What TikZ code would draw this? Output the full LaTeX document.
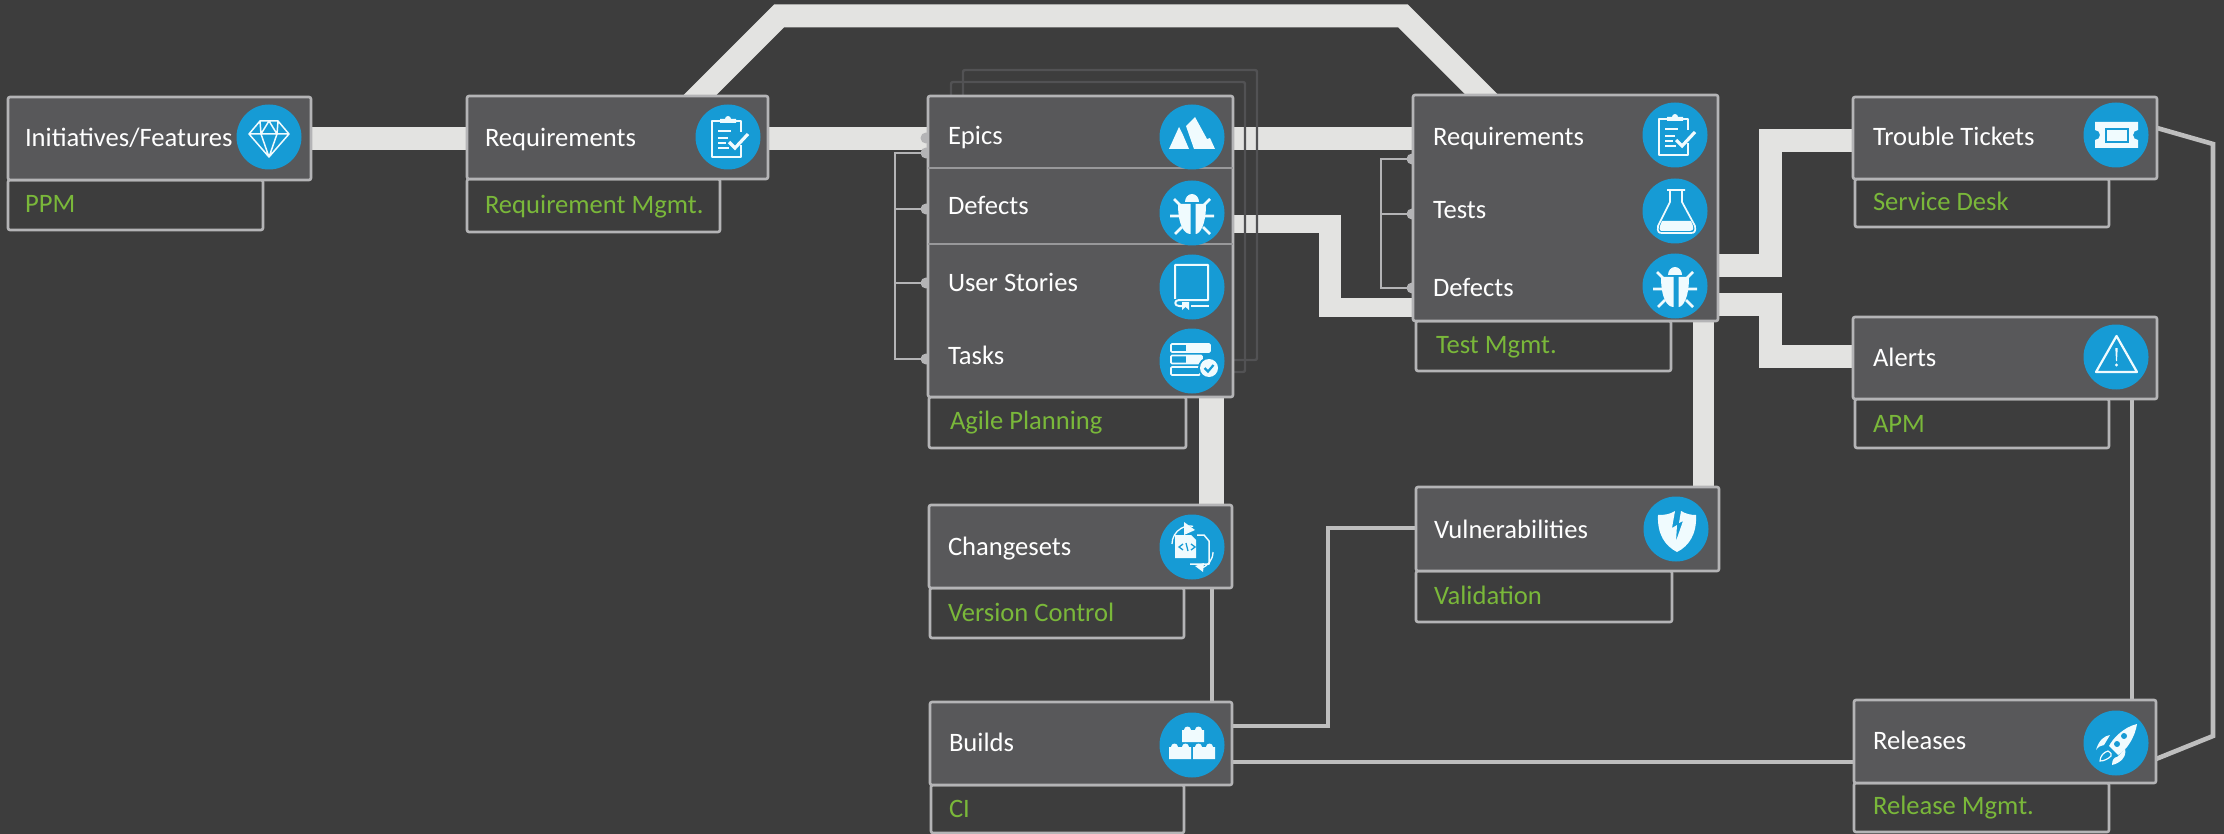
\documentclass[tikz,border=0pt]{standalone}
\usepackage{fontspec}
\setmainfont{Carlito}
\definecolor{bgc}{HTML}{3D3D3D}
\definecolor{cardc}{HTML}{58585A}
\definecolor{edgec}{HTML}{B4B4B6}
\definecolor{bandc}{HTML}{E3E3E1}
\definecolor{linkc}{HTML}{BEBEBE}
\definecolor{backc}{HTML}{525254}
\definecolor{bluec}{HTML}{169BD5}
\definecolor{icoc}{HTML}{F0FBFE}
\definecolor{greenc}{HTML}{7AB83A}
\pgfdeclarelayer{ground}
\pgfdeclarelayer{wires}
\pgfsetlayers{ground,wires,main}
\tikzset{
  cardbox/.style={draw=edgec,fill=cardc,line width=2.6pt,rounded corners=2pt,inner sep=0pt,outer sep=0pt},
  subbox/.style={draw=edgec,line width=2.6pt,rounded corners=2pt,inner sep=0pt,outer sep=0pt},
  backbox/.style={draw=backc,line width=2.4pt,rounded corners=2pt},
  band/.style={draw=bandc,line cap=butt,line join=miter},
  wideband/.style={band,line width=22.5pt},
  link/.style={draw=linkc,line width=4.6pt,line join=miter},
  bracket/.style={draw=edgec,line width=1.8pt},
  portdot/.style={circle,fill=edgec,minimum size=11pt,inner sep=0pt,outer sep=0pt},
  discn/.style={circle,fill=bluec,minimum size=65pt,inner sep=0pt,outer sep=0pt},
  title/.style={anchor=base west,inner sep=0pt,outer sep=0pt,text=white,font=\fontsize{26.6}{26.6}\selectfont},
  caption/.style={anchor=base west,inner sep=0pt,outer sep=0pt,text=greenc,font=\fontsize{26.6}{26.6}\selectfont},
  pics/ibug/.style={code={
    \fill[icoc] (-7,-11) arc[start angle=180,end angle=360,x radius=7,y radius=8] -- cycle;
    \fill[icoc] (-14,-9) -- (-1.5,-9) -- (-1.5,21) .. controls (-8,21) and (-14,12) .. (-14,-9) -- cycle;
    \fill[icoc] (14,-9) -- (3.5,-9) -- (3.5,21) .. controls (8,21) and (14,12) .. (14,-9) -- cycle;
    \draw[icoc,line width=2.6pt] (-18,-14)--(-10,-6) (18,-14)--(10,-6) (-22,3)--(-12,3) (22,3)--(12,3) (-17,21)--(-10,14) (18,21)--(11,14);
  }},
  pics/iclip/.style={code={
    \draw[icoc,line width=2.8pt,line join=round] (-5,-16) -- (-16,-16) -- (-16,20) -- (13,20) -- (13,8) (13,-5) -- (13,-16) -- (5,-16);
    \fill[icoc] (-8,-14) -- (-8,-18) -- (-3,-18) arc[start angle=180,end angle=360,radius=3] -- (8,-18) -- (8,-14) -- cycle;
    \draw[icoc,line width=1.8pt] (-10,-6)--(3,-6) (-10,1)--(0,1) (-10,6)--(-2,6) (-10,11)--(1,11);
    \draw[icoc,line width=3.2pt] (1,5)--(7,11)--(20,-3);
  }},
  pics/igem/.style={code={
    \draw[icoc,line width=1.5pt,line join=round] (-9,-16)--(9,-16)--(20,-3)--(0,20)--(-20,-3)--cycle (-20,-3)--(20,-3) (-9,-16)--(-8,-3)--(0,20)--(8,-3)--(9,-16) (-8,-3)--(0,-16)--(8,-3);
  }},
  pics/ipeak/.style={code={
    \fill[icoc] (-23,12) -- (-13,-10) -- (-9,-2) -- (-3,12) -- cycle;
    \fill[icoc] (-6,-11) -- (3,-20) -- (15,2) -- (18,1) -- (23,12) -- (2,12) -- cycle;
  }},
  pics/ibook/.style={code={
    \draw[icoc,line width=2pt,line join=round] (-17,12) -- (-17,-22) -- (16,-22) -- (16,13) -- (-13,13) .. controls (-18,13) and (-18,19) .. (-13,19) -- (-9,19);
    \draw[icoc,line width=2pt] (-1,19)--(17,19);
    \fill[icoc] (-10,15) -- (-3,15) -- (-3,23) -- (-6.5,20) -- (-10,23) -- cycle;
  }},
  pics/itasks/.style={code={
    \draw[icoc,line width=1.7pt,rounded corners=1pt] (-21,-17) rectangle (18,-9) (-21,-5.5) rectangle (10,2.5) (-21,6) rectangle (8,14);
    \fill[icoc,rounded corners=1pt] (-6,-17) rectangle (18,-9);
    \fill[icoc] (-6,-5.5) rectangle (10,2.5);
    \fill[bluec] (17,7) circle[radius=11];
    \fill[icoc] (17,7) circle[radius=9];
    \draw[bluec,line width=2.2pt] (12.5,7)--(16,10.5)--(21.5,4);
  }},
  pics/iflask/.style={code={
    \draw[icoc,line width=1.7pt,line join=round] (-8,-21)--(10,-21) (-5,-21)--(-5,-9)--(-17,15) .. controls (-18,21) and (-16,22) .. (-13,22) -- (16,22) .. controls (19,22) and (21,21) .. (20,15) -- (7,-9) -- (7,-21);
    \fill[icoc] (-13,10) -- (16,10) -- (18,15) .. controls (19,19) and (17,20) .. (15,20) -- (-12,20) .. controls (-15,20) and (-16,19) .. (-15,15) -- cycle;
  }},
  pics/iticket/.style={code={
    \fill[icoc] (-21,-13) -- (22,-13) -- (22,-5) arc[start angle=-90,end angle=-270,radius=5] -- (22,13) -- (-21,13) -- (-21,5) arc[start angle=90,end angle=-90,radius=5] -- cycle;
    \draw[bluec,line width=2.4pt] (-10,-6) rectangle (12,7);
  }},
  pics/ialert/.style={code={
    \draw[icoc,line width=2.2pt,line join=round] (0.5,-21)--(21,15)--(-20,15)--cycle;
    \fill[icoc] (-0.7,-9)--(1.7,-9)--(1,4)--(0,4)--cycle;
    \fill[icoc] (0.5,8) circle[radius=1.6];
  }},
  pics/ishield/.style={code={
    \fill[icoc] (-18,-14) .. controls (-10,-14) and (-6,-15) .. (-1,-18) -- (-4,-1) -- (1,-4) -- (0,12) -- (7,-8) -- (3,-6) -- (5,-18) .. controls (10,-15) and (15,-14) .. (20,-14) .. controls (21,5) and (13,17) .. (1,23) .. controls (-11,17) and (-19,5) .. (-18,-14) -- cycle;
  }},
  pics/ibricks/.style={code={
    \fill[icoc] (-10,-3) rectangle (12,-15) (-23,14) rectangle (-1,2) (1,14) rectangle (23,2);
    \foreach \sx/\sy in {-4.5/-15,6.5/-15,-17.5/2,-6.5/2,6.5/2,17.5/2}
      \fill[icoc] (\sx-3.5,\sy) arc[start angle=180,end angle=360,x radius=3.5,y radius=3.5] -- cycle;
  }},
  pics/irocket/.style={code={
    \fill[icoc] (21,-19) .. controls (8,-16) and (-3,-5) .. (-7,3) -- (2,12) .. controls (11,7) and (19,-6) .. (21,-19) -- cycle;
    \fill[bluec] (1,1) circle[radius=3] (8,-7) circle[radius=3];
    \fill[icoc] (-20,7) .. controls (-17,-3) and (-12,-7) .. (-6,-8) -- (-12,2) .. controls (-15,2) and (-18,4) .. (-20,7) -- cycle;
    \fill[icoc] (-4,22) .. controls (-4,17) and (-2,14) .. (1,14) -- (9,6) .. controls (11,13) and (5,20) .. (-4,22) -- cycle;
    \draw[icoc,line width=1.2pt] (-16,18) .. controls (-16,13) and (-12,9) .. (-8,8) .. controls (-5,10) and (-4,11) .. (-5,13) .. controls (-8,16) and (-12,18) .. (-16,18) -- cycle;
  }},
  pics/ichange/.style={code={
    \draw[icoc,line width=1.5pt,line join=round] (5,-12) -- (12,-12) -- (17,-6) -- (17,17) -- (-2,17);
    \fill[icoc] (-17,-12) -- (-1,-12) -- (4,-7) -- (4,11) -- (-17,11) -- cycle;
    \draw[bluec,line width=1.3pt] (-9,-3)--(-13,0)--(-9,3) (-1,-3)--(3,0)--(-1,3) (-4,4)--(-6,-4);
    \draw[icoc,line width=1.3pt] (-20,-3) arc[start angle=180,end angle=280,radius=18];
    \fill[icoc] (-8,-25) -- (3,-17) -- (-8,-12) -- cycle;
    \draw[icoc,line width=1.3pt] (21,5) arc[start angle=0,end angle=75,radius=17];
    \fill[icoc] (3,19) -- (12,16) -- (11,25) -- cycle;
  }},
}
\newcommand{\cardat}[5]{\node[cardbox,minimum width={(#4-#2)*1pt},minimum height={(#5-#3)*1pt}] (#1) at ({(#2+#4)/2},{(#3+#5)/2}) {};}
\newcommand{\subat}[5]{\node[subbox,minimum width={(#4-#2)*1pt},minimum height={(#5-#3)*1pt}] (#1) at ({(#2+#4)/2},{(#3+#5)/2}) {};}
\newcommand{\discat}[4]{\node[discn] (#1) at (#2,#3) {}; \pic at (#2,#3) {#4};}
\begin{document}
\begin{tikzpicture}[x=1pt,y=-1pt]
\useasboundingbox (0,0) rectangle (2224,834);
\begin{pgfonlayer}{ground}
\fill[bgc] (0,0) rectangle (2224,834);
\end{pgfonlayer}
% sub boxes
\subat{initS}{8}{180}{263}{230}
\subat{reqS}{467}{179}{720}{232}
\subat{agileS}{929}{397}{1186}{448}
\subat{testS}{1416}{321}{1671}{371}
\subat{troubleS}{1855}{179}{2109}{227}
\subat{alertsS}{1855}{399}{2109}{448}
\subat{changeS}{930}{588}{1184}{638}
\subat{vulnS}{1416}{571}{1672}{622}
\subat{buildsS}{931}{785}{1184}{833}
\subat{relS}{1854}{783}{2109}{832}
% cards
\cardat{init}{8}{97}{311}{180}
\cardat{req}{467}{96}{768}{179}
\cardat{agile}{928}{96}{1233}{397}
\cardat{test}{1413}{95}{1718}{321}
\cardat{trouble}{1853}{97}{2157}{179}
\cardat{alerts}{1853}{317}{2157}{399}
\cardat{change}{929}{505}{1232}{588}
\cardat{vuln}{1416}{487}{1719}{571}
\cardat{builds}{930}{702}{1232}{785}
\cardat{rel}{1854}{700}{2156}{783}
\draw[draw=edgec!70!cardc,line width=1.5pt] (agile.west |- 0,168) -- (agile.east |- 0,168);
\draw[draw=edgec!70!cardc,line width=1.5pt] (agile.west |- 0,244) -- (agile.east |- 0,244);
\begin{pgfonlayer}{wires}
\coordinate (topL) at (779,16);
\coordinate (topR) at (1403,16);
\coordinate (reqIn) at (680,115);
\coordinate (testIn) at (1502,115);
% thick connectors
\draw[wideband] (init.east) -- (req.west |- init.east);
\draw[wideband] (req.east |- 0,138.5) -- (agile.west |- 0,138.5);
\draw[wideband] (agile.east |- 0,138.5) -- (test.west |- 0,138.5);
\draw[wideband,line width=23pt] (reqIn) -- (topL) -- (topR) -- (testIn);
\draw[band,line width=18.5pt] (agile.east |- 0,224) -- (1341,224);
\draw[band,line width=22pt] (1330,215) -- (1330,317);
\draw[band,line width=19pt] (1319,307.5) -- (test.west |- 0,307.5);
\draw[band,line width=25pt] (agile.south -| 1211.5,0) -- (change.north -| 1211.5,0);
\draw[band,line width=21pt] (test.south -| 1703.5,0) -- (vuln.north -| 1703.5,0);
\draw[wideband,line width=23pt] (test.east |- 0,265.5) -- (1770.5,265.5) -- (1770.5,140.5) -- (trouble.west |- 0,140.5);
\draw[wideband,line width=23pt] (test.east |- 0,304.5) -- (1770.5,304.5) -- (1770.5,356.5) -- (alerts.west |- 0,356.5);
% thin connectors
\draw[link] (change.south -| 1212,0) -- (builds.north -| 1212,0);
\draw[link] (builds.east |- 0,726) -- (1328,726) -- (1328,528) -- (vuln.west |- 0,528);
\draw[link] (builds.east |- 0,762) -- (rel.west |- 0,762);
\draw[link] (alerts.south -| 2132,0) -- (rel.north -| 2132,0);
\draw[link] (trouble.east |- 0,128) -- (2213,144) -- (2213,736) -- (rel.east |- 0,759);
% stacked cards behind Agile Planning
\draw[backbox] (963,70) rectangle (1257,360);
\draw[backbox] (951,82) rectangle (1245,372);
% brackets
\draw[bracket] (agile.west |- 0,153) -- (895,153) -- (895,359) -- (agile.west |- 0,359);
\draw[bracket] (895,209) -- (agile.west |- 0,209);
\draw[bracket] (895,283) -- (agile.west |- 0,283);
\draw[bracket] (test.west |- 0,159) -- (1381,159) -- (1381,288) -- (test.west |- 0,288);
\draw[bracket] (1381,214) -- (test.west |- 0,214);
\foreach \py/\pn in {138/a,153/b,209/c,283/d,359/e} \node[portdot] (dotA\pn) at (926,\py) {};
\foreach \py/\pn in {159/a,214/b,288/c} \node[portdot] (dotT\pn) at (1412,\py) {};
\end{pgfonlayer}
% discs and icons
\discat{d1}{269}{137}{igem}
\discat{d2}{728}{137}{iclip}
\discat{d3}{1192}{137}{ipeak}
\discat{d4}{1192}{213}{ibug}
\discat{d5}{1192}{287}{ibook}
\discat{d6}{1192}{361}{itasks}
\discat{d7}{1675}{135}{iclip}
\discat{d8}{1675}{211}{iflask}
\discat{d9}{1675}{286}{ibug}
\discat{d10}{2116}{135}{iticket}
\discat{d11}{2116}{357}{ialert}
\discat{d12}{1192}{547}{ichange}
\discat{d13}{1676}{529}{ishield}
\discat{d14}{1192}{745}{ibricks}
\discat{d15}{2116}{743}{irocket}
% labels
\node[title] (t1) at (25,147) {Initiatives/Features};
\node[caption] (c1) at (25,212.5) {PPM};
\node[title] (t2) at (485,146.5) {Requirements};
\node[caption] (c2) at (485,213.5) {Requirement Mgmt.};
\node[title] (t3) at (948,145) {Epics};
\node[title] (t4) at (948,214.5) {Defects};
\node[title] (t5) at (948,291) {User Stories};
\node[title] (t6) at (948,364.5) {Tasks};
\node[caption] (c3) at (950,429.5) {Agile Planning};
\node[title] (t7) at (1433,145.5) {Requirements};
\node[title] (t8) at (1433,218.5) {Tests};
\node[title] (t9) at (1433,296) {Defects};
\node[caption] (c4) at (1436,353) {Test Mgmt.};
\node[title] (t10) at (1873,146) {Trouble Tickets};
\node[caption] (c5) at (1873,211) {Service Desk};
\node[title] (t11) at (1873,366) {Alerts};
\node[caption] (c6) at (1873,432) {APM};
\node[title] (t12) at (948,555) {Changesets};
\node[caption] (c7) at (948,621) {Version Control};
\node[title] (t13) at (1434,538) {Vulnerabilities};
\node[caption] (c8) at (1434,604) {Validation};
\node[title] (t14) at (949,751) {Builds};
\node[caption] (c9) at (949,817) {CI};
\node[title] (t15) at (1873,749.5) {Releases};
\node[caption] (c10) at (1873,814.5) {Release Mgmt.};
\end{tikzpicture}
\end{document}
